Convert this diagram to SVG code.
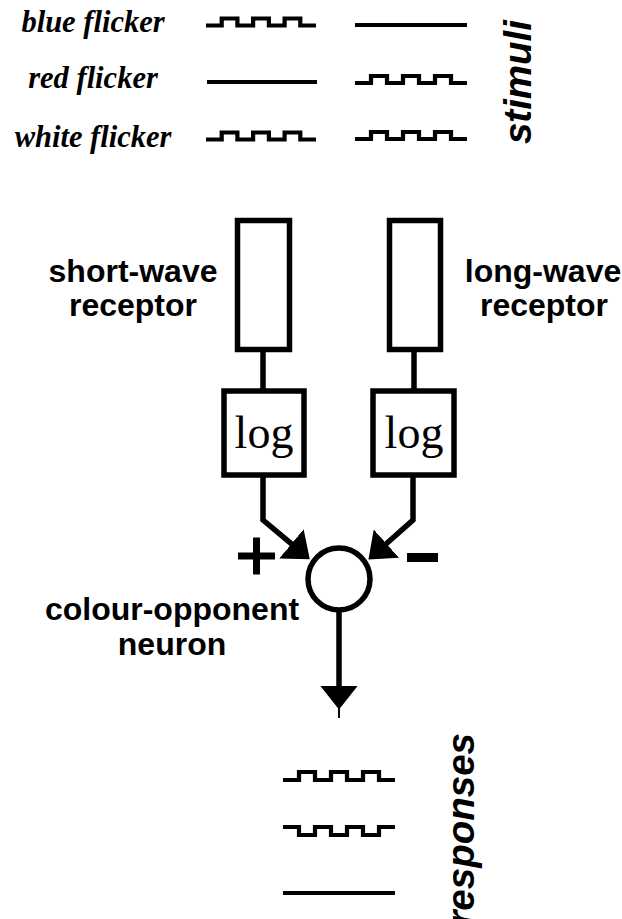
<svg xmlns="http://www.w3.org/2000/svg" width="622" height="919" viewBox="0 0 622 919">
<style>
  .ser{font-family:"Liberation Serif","Times New Roman",serif;font-style:italic;font-weight:bold;font-size:30.5px;fill:#000;text-anchor:middle}
  .lab{font-family:"Liberation Sans",Arial,sans-serif;font-weight:bold;font-size:32px;fill:#000;text-anchor:middle}
  .rot{font-family:"Liberation Sans",Arial,sans-serif;font-weight:bold;font-style:italic;font-size:38.5px;fill:#000;text-anchor:end}
  .log{font-family:"Liberation Serif","Times New Roman",serif;font-size:46px;fill:#000;text-anchor:middle}
  .wave{fill:none;stroke:#000;stroke-width:4.2;stroke-linejoin:miter}
  .box{fill:#fff;stroke:#000;stroke-width:5.5}
  .conn{fill:none;stroke:#000;stroke-width:5.5}
</style>
<defs>
  <marker id="ah" markerUnits="userSpaceOnUse" markerWidth="24" markerHeight="38" viewBox="0 0 24 38" refX="0.5" refY="19" orient="auto">
    <path d="M0,0 L24,19 L0,38 Z" fill="#000"/>
  </marker>
</defs>
<g id="stimuli">
  <text class="ser" x="93" y="32">blue flicker</text>
  <text class="ser" x="93" y="88">red flicker</text>
  <text class="ser" x="93" y="147">white flicker</text>
  <path class="wave" d="M206,25.5 H221.7 V18.5 H237.4 V25.5 H253.1 V18.5 H268.9 V25.5 H284.6 V18.5 H300.3 V25.5 H316"/>
  <path class="wave" d="M207,82 H317"/>
  <path class="wave" d="M206,139.5 H221.7 V132.5 H237.4 V139.5 H253.1 V132.5 H268.9 V139.5 H284.6 V132.5 H300.3 V139.5 H316"/>
  <path class="wave" d="M355,25 H467"/>
  <path class="wave" d="M355,83 H371 V76 H387 V83 H403 V76 H419 V83 H435 V76 H451 V83 H467"/>
  <path class="wave" d="M355,139 H371 V132 H387 V139 H403 V132 H419 V139 H435 V132 H451 V139 H467"/>
  <text class="rot" transform="translate(531,20) rotate(-90)">stimuli</text>
</g>
<g id="short-wave-receptor">
  <rect class="box" x="237.5" y="220.5" width="52" height="129"/>
  <text class="lab" x="133" y="282">short-wave</text>
  <text class="lab" x="133" y="316">receptor</text>
</g>
<g id="long-wave-receptor">
  <rect class="box" x="389.5" y="220.5" width="51" height="129"/>
  <text class="lab" x="543" y="282">long-wave</text>
  <text class="lab" x="544" y="316">receptor</text>
</g>
<g id="log-short">
  <rect class="box" x="224" y="391" width="80" height="84"/>
  <text class="log" x="264" y="448">log</text>
</g>
<g id="log-long">
  <rect class="box" x="373" y="391" width="81" height="84"/>
  <text class="log" x="414" y="448">log</text>
</g>
<g id="neuron">
  <circle cx="339" cy="579" r="31" fill="#fff" stroke="#000" stroke-width="5.5"/>
  <path d="M238,556 H275 M256.5,537.5 V574.5" stroke="#000" stroke-width="7" fill="none"/>
  <rect x="407" y="553" width="31" height="9" fill="#000"/>
  <text class="lab" x="172" y="620">colour-opponent</text>
  <text class="lab" x="172" y="655">neuron</text>
</g>
<g id="responses">
  <path class="wave" d="M283,780 H299 V772 H315 V780 H331 V772 H347 V780 H363 V772 H379 V780 H395"/>
  <path class="wave" d="M283,827 H299 V835 H315 V827 H331 V835 H347 V827 H363 V835 H379 V827 H395"/>
  <path class="wave" d="M283,893 H395"/>
  <text class="rot" transform="translate(474,733) rotate(-90)">responses</text>
</g>
<g id="connectors">
  <path class="conn" d="M263,352 V391"/>
  <path class="conn" d="M414,352 V391"/>
  <path class="conn" d="M263,475 V520 L291.8,544.2" marker-end="url(#ah)"/>
  <path class="conn" d="M413,475 V520 L386,544" marker-end="url(#ah)"/>
  <path class="conn" d="M339,610 V686" marker-end="url(#ah)"/>
  <path d="M339,708 V718" stroke="#000" stroke-width="2" fill="none"/>
</g>
</svg>
